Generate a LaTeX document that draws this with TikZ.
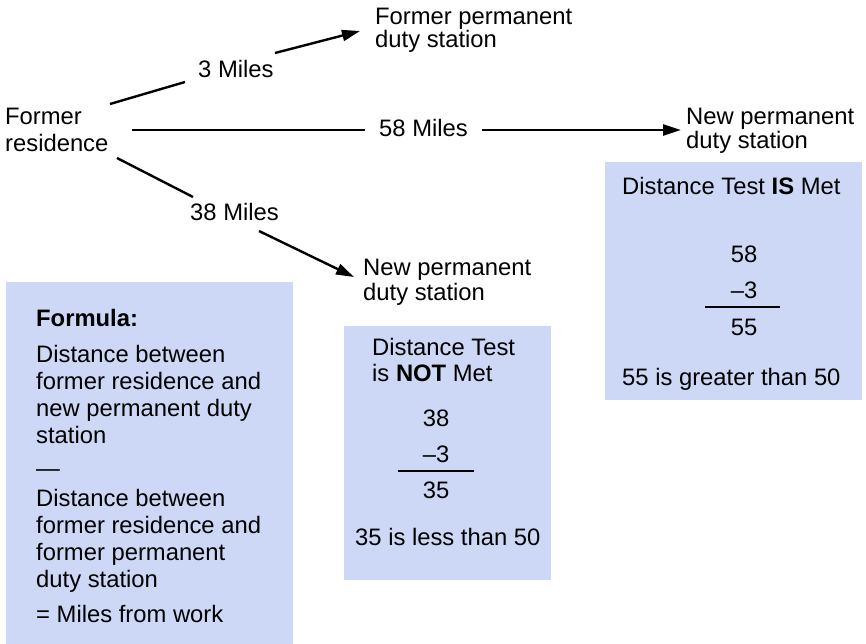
\documentclass[tikz,border=0pt]{standalone}
\usepackage{fontspec}
\setmainfont{Liberation Sans}
\usetikzlibrary{arrows.meta}
\definecolor{boxblue}{RGB}{204,216,245}
\begin{document}
\begin{tikzpicture}[x=1pt,y=-1pt,
  txt/.style={anchor=base west, inner sep=0pt, font=\fontsize{23.8}{27}\selectfont},
  num/.style={anchor=base, inner sep=0pt, font=\fontsize{23.8}{27}\selectfont},
  seg/.style={line width=2.4pt},
  conn/.style={line width=2.4pt, -{Triangle[length=18pt,width=11pt]}},
  rule/.style={line width=1.2pt},
  panel/.style={fill=boxblue, draw=none, inner sep=0pt, anchor=north west}]
\useasboundingbox (0,0) rectangle (866,644);

% panels
\node[panel, minimum width=287pt, minimum height=362pt] (pform) at (6,282) {};
\node[panel, minimum width=207pt, minimum height=254pt] (pnot) at (344,326) {};
\node[panel, minimum width=257pt, minimum height=238pt] (pis) at (605,162) {};

% place labels
\node[txt] (res1) at (5,125) {Former};
\node[txt] (res2) at (5,152) {residence};
\node[txt] (fps1) at (375,25) {Former permanent};
\node[txt] (fps2) at (375,48) {duty station};
\node[txt] (npr1) at (686,125) {New permanent};
\node[txt] (npr2) at (686,149) {duty station};
\node[txt] (npm1) at (363,275) {New permanent};
\node[txt] (npm2) at (363,300) {duty station};

% distance labels
\node[txt] (l3) at (198,78) {3 Miles};
\node[txt] (l58) at (379,137) {58 Miles};
\node[txt] (l38) at (190,220) {38 Miles};

% connectors
\coordinate (s3) at (110,104);  \coordinate (g3a) at (185,82);
\coordinate (g3b) at (275,53);  \coordinate (e3) at (360,31);
\coordinate (s58) at (132,130); \coordinate (g58a) at (365,130);
\coordinate (g58b) at (482,130); \coordinate (e58) at (681,130);
\coordinate (s38) at (117,158); \coordinate (g38a) at (193,197);
\coordinate (g38b) at (259,231); \coordinate (e38) at (354,277);
\draw[seg] (s3) -- (g3a);
\draw[conn] (g3b) -- (e3);
\draw[seg] (s58) -- (g58a);
\draw[conn] (g58b) -- (e58);
\draw[seg] (s38) -- (g38a);
\draw[conn] (g38b) -- (e38);

% formula panel
\node[txt] (f0) at (36,326) {\textbf{Formula:}};
\node[txt] (f1) at (36,362) {Distance between};
\node[txt] (f2) at (36,389) {former residence and};
\node[txt] (f3) at (36,416) {new permanent duty};
\node[txt] (f4) at (36,443) {station};
\node[txt] (f5) at (36,476) {—};
\node[txt] (f6) at (36,506) {Distance between};
\node[txt] (f7) at (36,533) {former residence and};
\node[txt] (f8) at (36,560) {former permanent};
\node[txt] (f9) at (36,587) {duty station};
\node[txt] (f10) at (36,622) {= Miles from work};

% not met panel
\node[txt] (n1) at (372,355) {Distance Test};
\node[txt] (n2) at (372,381) {is \textbf{NOT} Met};
\node[num] (n3) at (436,426) {38};
\node[num] (n4) at (436,462) {–3};
\coordinate (nl1) at (398,471);
\coordinate (nl2) at (474,471);
\draw[rule] (nl1) -- (nl2);
\node[num] (n5) at (436,498) {35};
\node[txt] (n6) at (355,545) {35 is less than 50};

% is met panel
\node[txt] (m1) at (622,195) {Distance Test \textbf{IS} Met};
\node[num] (m2) at (744,262) {58};
\node[num] (m3) at (744,298) {–3};
\coordinate (ml1) at (705,307);
\coordinate (ml2) at (780,307);
\draw[rule] (ml1) -- (ml2);
\node[num] (m4) at (744,335) {55};
\node[txt] (m5) at (622,385) {55 is greater than 50};
\end{tikzpicture}
\end{document}
